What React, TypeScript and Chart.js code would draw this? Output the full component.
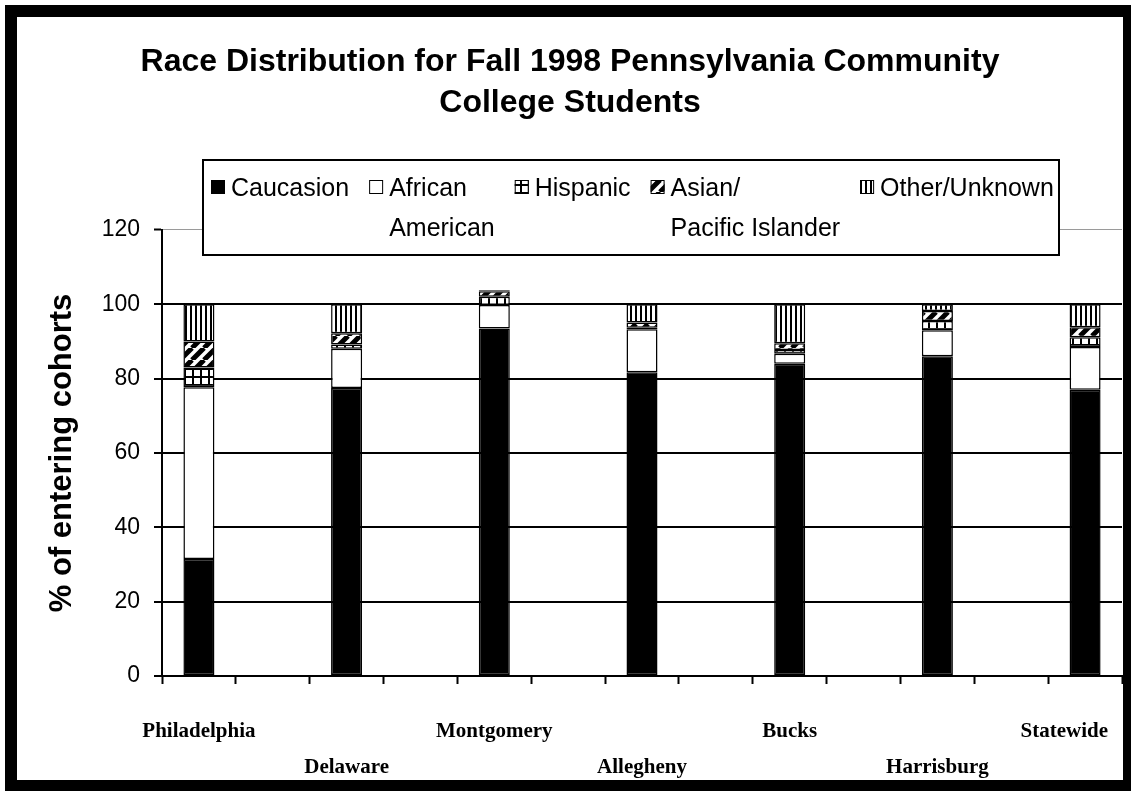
import React, { useEffect, useRef } from 'react';
import { Chart, registerables } from 'chart.js';

Chart.register(...registerables);

const TITLE_LINES = ['Race Distribution for Fall 1998 Pennsylvania Community', 'College Students'];
const Y_TITLE = '% of entering cohorts';
const CATEGORIES = ['Philadelphia', '', 'Delaware', '', 'Montgomery', '', 'Allegheny', '', 'Bucks', '', 'Harrisburg', '', 'Statewide'];
const SERIES_NAMES = ['Caucasion', 'African American', 'Hispanic', 'Asian/ Pacific Islander', 'Other/Unknown'];
const LEGEND_LINES = [['Caucasion'], ['African', 'American'], ['Hispanic'], ['Asian/', 'Pacific Islander'], ['Other/Unknown']];
const CAUCASION = [31.5, null, 77.5, null, 93.5, null, 81.7, null, 84, null, 86, null, 77];
const AFRICAN_AMERICAN = [46.2, null, 10.5, null, 6.3, null, 11.6, null, 2.7, null, 7, null, 11.5];
const HISPANIC = [5.3, null, 1.2, null, 2.2, null, 0.4, null, 1, null, 2.5, null, 2.6];
const ASIAN_PACIFIC = [7, null, 3, null, 1.5, null, 1.4, null, 1.8, null, 2.7, null, 2.7];
const OTHER_UNKNOWN = [10, null, 7.8, null, 0.3, null, 4.9, null, 10.5, null, 1.8, null, 6.2];
const Y_MIN = 0;
const Y_MAX = 120;
const Y_STEP = 20;

type Kind = 'solid' | 'white' | 'grid' | 'diag' | 'vert';
const SERIES_KINDS: Kind[] = ['solid', 'white', 'grid', 'diag', 'vert'];

function makeFill(ctx: CanvasRenderingContext2D, kind: Kind): string | CanvasPattern {
  if (kind === 'solid') return '#000000';
  if (kind === 'white') return '#ffffff';
  const c = document.createElement('canvas');
  const g = c.getContext('2d') as CanvasRenderingContext2D;
  if (kind === 'grid') {
    c.width = 8; c.height = 8;
    g.fillStyle = '#fff'; g.fillRect(0, 0, 8, 8);
    g.fillStyle = '#000';
    g.fillRect(0, 0, 8, 2);
    g.fillRect(0, 0, 2, 8);
  } else if (kind === 'diag') {
    c.width = 12; c.height = 12;
    g.fillStyle = '#fff'; g.fillRect(0, 0, 12, 12);
    g.strokeStyle = '#000'; g.lineWidth = 5;
    g.beginPath();
    for (const o of [-12, 0, 12]) { g.moveTo(o, 12); g.lineTo(o + 12, 0); }
    g.stroke();
  } else {
    c.width = 5; c.height = 4;
    g.fillStyle = '#fff'; g.fillRect(0, 0, 5, 4);
    g.fillStyle = '#000'; g.fillRect(0, 0, 2, 4);
  }
  return ctx.createPattern(c, 'repeat') as CanvasPattern;
}

export default function App() {
  const ref = useRef<HTMLCanvasElement | null>(null);

  useEffect(() => {
    const canvas = ref.current;
    if (!canvas) return;
    const ctx0 = canvas.getContext('2d') as CanvasRenderingContext2D;
    const fills = SERIES_KINDS.map((k) => makeFill(ctx0, k));
    const seriesData = [CAUCASION, AFRICAN_AMERICAN, HISPANIC, ASIAN_PACIFIC, OTHER_UNKNOWN];

    const decor = {
      id: 'decor',
      beforeDraw(chart: any) {
        const c = chart.ctx;
        c.save();
        c.fillStyle = '#fff';
        c.fillRect(0, 0, chart.width, chart.height);
        c.restore();
      },
      afterDraw(chart: any) {
        const c: CanvasRenderingContext2D = chart.ctx;
        const xs = chart.scales.x;
        c.save();
        // category labels, alternating rows
        c.font = 'bold 21px "Liberation Serif"';
        c.fillStyle = '#000';
        c.textAlign = 'center';
        c.textBaseline = 'middle';
        let k = 0;
        (chart.data.labels as string[]).forEach((lab, i) => {
          if (!lab) return;
          const row = k % 2;
          k++;
          const w = c.measureText(lab).width;
          let cx = xs.getPixelForValue(i);
          cx = Math.min(cx, 1108 - w / 2);
          c.fillText(lab, cx, xs.top + (row === 0 ? 56 : 92));
        });

        // legend
        const bx = 203, by = 160, bw = 856, bh = 95;
        c.fillStyle = '#fff';
        c.fillRect(bx, by, bw, bh);
        c.strokeStyle = '#000';
        c.lineWidth = 2;
        c.strokeRect(bx, by, bw, bh);
        c.font = '25px "Liberation Sans"';
        c.textAlign = 'left';
        c.textBaseline = 'alphabetic';
        let x = bx + 8;
        LEGEND_LINES.forEach((lines, i) => {
          c.fillStyle = fills[i] as any;
          c.fillRect(x, 180, 14, 14);
          c.strokeStyle = '#000';
          c.lineWidth = 1;
          c.strokeRect(x + 0.5, 180.5, 13, 13);
          c.fillStyle = '#000';
          const tx = x + 20;
          let maxW = 0;
          lines.forEach((ln, j) => {
            c.fillText(ln, tx, 196 + j * 40);
            maxW = Math.max(maxW, c.measureText(ln).width);
          });
          x = tx + maxW + 20;
        });

        // outer frame
        c.fillStyle = '#000';
        c.fillRect(5, 5, 1126, 12);
        c.fillRect(5, 5, 12, 786);
        c.fillRect(1123, 5, 8, 786);
        c.fillRect(5, 780, 1126, 11);
        c.restore();
      },
    };

    const chart = new Chart(canvas, {
      type: 'bar',
      data: {
        labels: CATEGORIES,
        datasets: SERIES_NAMES.map((name, i) => ({
          label: name,
          data: seriesData[i] as any,
          backgroundColor: fills[i] as any,
          borderColor: '#000',
          borderWidth: 1.5,
          borderSkipped: false,
          barPercentage: 0.42,
          categoryPercentage: 1,
        })),
      },
      options: {
        responsive: false,
        animation: false,
        devicePixelRatio: 1,
        layout: { padding: { left: 18, right: 9, top: 0, bottom: 0 } },
        plugins: {
          legend: { display: false },
          tooltip: { enabled: false },
          title: {
            display: true,
            text: TITLE_LINES,
            color: '#000',
            font: { family: 'Liberation Sans', size: 32, weight: 'bold', lineHeight: 1.28 },
            padding: { top: 41.5, bottom: 106.5 },
          },
        },
        scales: {
          x: {
            stacked: true,
            grid: {
              display: true,
              drawOnChartArea: false,
              drawTicks: true,
              tickLength: 8,
              tickColor: '#000',
              tickWidth: 2,
              offset: true,
              color: '#000',
            },
            border: { display: true, color: '#000', width: 2 },
            ticks: { display: false },
            afterFit: (s: any) => { s.height = 115; s.paddingLeft = 0; s.paddingRight = 0; },
          },
          y: {
            stacked: true,
            min: Y_MIN,
            max: Y_MAX,
            ticks: {
              stepSize: Y_STEP,
              color: '#000',
              padding: 14,
              font: { family: 'Liberation Sans', size: 23 },
            },
            grid: {
              color: (c: any) => (c.tick && c.tick.value === Y_MAX ? '#9a9a9a' : '#000'),
              lineWidth: (c: any) => (c.tick && c.tick.value === Y_MAX ? 1 : 2),
              tickColor: '#000',
              tickWidth: 2,
              tickLength: 8,
            },
            border: { display: true, color: '#000', width: 2 },
            title: {
              display: true,
              text: Y_TITLE,
              color: '#000',
              font: { family: 'Liberation Sans', size: 31, weight: 'bold', lineHeight: 1.2 },
              padding: { top: 26, bottom: 0 },
            },
            afterFit: (s: any) => { s.width = 144; },
          },
        },
      } as any,
      plugins: [decor],
    });
    return () => chart.destroy();
  }, []);

  return (
    <div style={{ position: 'absolute', left: 0, top: 0, width: 1131, height: 791 }}>
      <canvas ref={ref} width={1131} height={791} style={{ display: 'block' }} />
    </div>
  );
}
